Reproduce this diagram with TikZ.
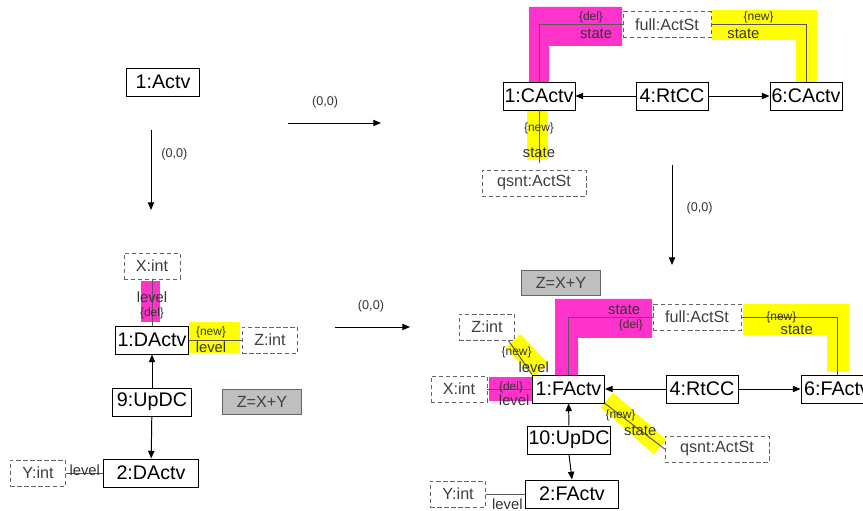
\documentclass[tikz,border=0pt]{standalone}
\usepackage{fontspec}
\setmainfont{Liberation Sans}
\usepackage{xcolor}
\usetikzlibrary{shapes, arrows.meta, positioning}
\definecolor{delpink}{HTML}{FF33CC}
\definecolor{newyellow}{HTML}{FFFF00}

\begin{document}
\begin{tikzpicture}[x=0.025cm, y=-0.025cm,
    obj/.style={rectangle, draw, line width=0.7pt, fill=white, minimum width=1.8cm, minimum height=0.7cm, inner xsep=0.5pt, inner ysep=0pt, font=\fontsize{14}{16}\selectfont},
    attr/.style={rectangle, draw=black!60, dashed, dash pattern=on 3pt off 2pt, fill=white, text=black!75, minimum height=0.65cm, inner xsep=8.5pt, inner ysep=0pt, font=\fontsize{11.5}{13}\selectfont},
    cond/.style={rectangle, draw=black!60, line width=0.7pt, fill=black!25, text=black!75, minimum width=1.98cm, minimum height=0.63cm, font=\fontsize{11.5}{13}\selectfont},
    role/.style={inner sep=1pt, text=black!80, font=\fontsize{10.5}{12}\selectfont},
    tag/.style={inner sep=1pt, text=black!80, font=\fontsize{8.5}{10}\selectfont},
    rule/.style={inner sep=1pt, text=black!80, font=\fontsize{9}{10}\selectfont},
    link/.style={draw=black!65, line width=0.7pt},
    nav/.style={line width=0.7pt, -{Triangle[length=5.5pt, width=4.5pt]}}]

    \useasboundingbox (0,0) rectangle (863,511);

    % Highlights (deleted = pink, created = yellow)
    \fill[delpink] (529,82) -- (529,7) -- (622,7) -- (622,46) -- (549,46) -- (549,82) -- cycle;
    \fill[newyellow] (712,10) -- (817,10) -- (817,82) -- (796,82) -- (796,40) -- (712,40) -- cycle;
    \fill[newyellow] (527,110) rectangle (548,160);
    \fill[delpink] (141,281) rectangle (160,322);
    \fill[newyellow] (189,322) rectangle (240,353);
    \fill[delpink] (489,377) rectangle (533,401);
    \fill[delpink] (555,375) -- (555,299) -- (652,299) -- (652,338) -- (578,338) -- (578,375) -- cycle;
    \fill[newyellow] (743,304) -- (849,304) -- (849,372) -- (827,372) -- (827,335) -- (743,335) -- cycle;
    \draw[newyellow, line width=0.5cm] (513,341) -- (541,370);
    \draw[newyellow, line width=0.48cm] (607,400) -- (660,447);

    % Start graph
    \node[obj] (actv) at (163,82) {1:Actv};

    % Step arrows
    \coordinate (downS) at (151,130);
    \coordinate (downE) at (151,210);
    \coordinate (rightS) at (288,123);
    \coordinate (rightE) at (381,123);
    \coordinate (down2S) at (672,165);
    \coordinate (down2E) at (672,265);
    \coordinate (right2S) at (335,327);
    \coordinate (right2E) at (410,327);
    \draw[nav] (downS) -- (downE) node[rule, pos=0.3, right=6pt] {(0,0)};
    \draw[nav] (rightS) -- (rightE) node[rule, pos=0.4, above=9pt] {(0,0)};
    \draw[nav] (down2S) -- (down2E) node[rule, pos=0.43, right=9pt] {(0,0)};
    \draw[nav] (right2S) -- (right2E) node[rule, pos=0.48, above=9pt] {(0,0)};

    % Top right graph
    \node[obj] (cactvA) at (539,96) {1:CActv};
    \node[obj] (rtccC) at (672,96) {4:RtCC};
    \node[obj] (cactvB) at (806,96) {6:CActv};
    \node[attr] (fullC) at (667,24.5) {full:ActSt};
    \node[attr, minimum width=2.6cm] (qsntC) at (534,183) {qsnt:ActSt};

    \draw[link] (cactvA.north) |- (fullC.west)
        node[tag, pos=0.81, above] {\{del\}} node[role, pos=0.84, below=2pt] {state};
    \draw[link] (fullC.east) -| (cactvB.north)
        node[tag, pos=0.25, above] {\{new\}} node[role, pos=0.17, below=2pt] {state};
    \draw[link, shorten >=5pt] (cactvA.south) -- (cactvA.south |- qsntC.north)
        node[tag, pos=0.3] {\{new\}} node[role, pos=0.72] {state};
    \draw[nav] (rtccC) -- (cactvA);
    \draw[nav] (rtccC) -- (cactvB);

    % Bottom left graph
    \node[attr] (xintD) at (152,266) {X:int};
    \node[obj] (dactvA) at (152,340) {1:DActv};
    \node[attr] (zintD) at (270,340) {Z:int};
    \node[obj, minimum width=1.98cm] (updcD) at (152,402) {9:UpDC};
    \node[cond] (sumD) at (262,402) {Z=X+Y};
    \node[obj, minimum width=2.35cm] (dactvB) at (151,473) {2:DActv};
    \node[attr] (yintD) at (38,473) {Y:int};

    \draw[link] (xintD) -- (dactvA)
        node[role, pos=0.38] {level} node[tag, pos=0.73] {\{del\}};
    \draw[link] (dactvA) -- (zintD)
        node[tag, pos=0.42, above=0pt] {\{new\}} node[role, pos=0.42, below=0pt] {level};
    \draw[nav] (updcD) -- (dactvA);
    \draw[nav] (updcD) -- (dactvB);
    \draw[link] (yintD) -- (dactvB) node[role, midway, above=-3pt] {level};

    % Bottom right graph
    \node[cond] (sumF) at (561,283) {Z=X+Y};
    \node[attr] (fullF) at (697,317) {full:ActSt};
    \node[obj] (factvA) at (568.5,389) {1:FActv};
    \node[obj] (rtccF) at (702,389) {4:RtCC};
    \node[obj] (factvB) at (837,389) {6:FActv};
    \node[obj, minimum width=2cm] (updcF) at (569,440) {10:UpDC};
    \node[obj, minimum width=2.33cm] (factvC) at (572,494) {2:FActv};
    \node[attr] (yintF) at (458,494) {Y:int};
    \node[attr] (xintF) at (459,389) {X:int};
    \node[attr] (zintF) at (487,327) {Z:int};
    \node[attr, minimum width=2.6cm] (qsntF) at (717,449) {qsnt:ActSt};

    \draw[link] (xintF) -- (factvA)
        node[tag, pos=0.53, above=-4pt] {\{del\}} node[role, pos=0.6, below=2.5pt] {level};
    \draw[link] (zintF.-32) -- (factvA.north west)
        node[tag, pos=0.35] {\{new\}} node[role, pos=0.78, xshift=5pt] {level};
    \draw[link] (factvA.north) |- (fullF.west)
        node[role, pos=0.83, above=0pt] {state} node[tag, pos=0.87, below=1pt] {\{del\}};
    \draw[link] (fullF.east) -| (factvB.north)
        node[tag, pos=0.21] {\{new\}} node[role, pos=0.29, below=4pt] {state};
    \draw[link] (factvA.south east) -- (qsntF.west)
        node[tag, pos=0.26] {\{new\}} node[role, pos=0.59] {state};
    \draw[nav] (rtccF) -- (factvA);
    \draw[nav] (rtccF) -- (factvB);
    \draw[nav] (updcF) -- (factvA);
    \draw[nav] (updcF.south) -- (factvC.north);
    \draw[link] (yintF) -- (factvC) node[role, pos=0.55, below=2pt] {level};

\end{tikzpicture}
\end{document}
